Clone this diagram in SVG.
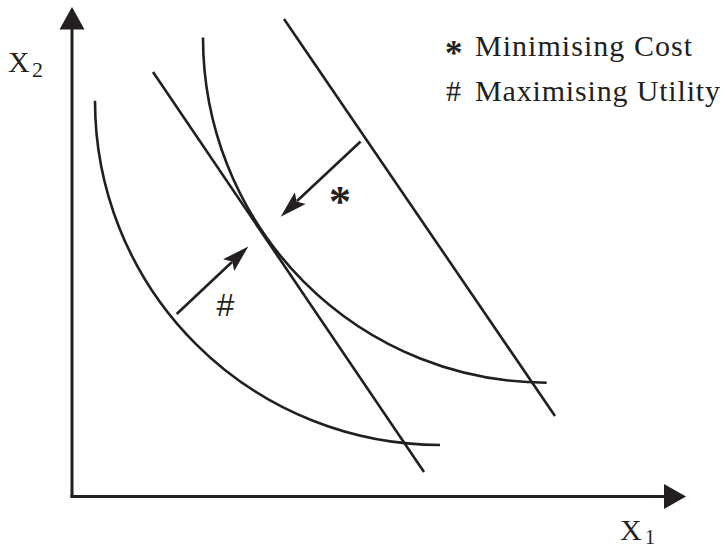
<svg xmlns="http://www.w3.org/2000/svg" width="725" height="547" viewBox="0 0 725 547">
<defs>
<style>
.ln{fill:none;stroke:#231f20;stroke-width:2.6;stroke-linecap:butt}
.ax{fill:none;stroke:#231f20;stroke-width:3}
.hd{fill:#231f20;stroke:none}
.t{font-family:"Liberation Serif","Times New Roman",serif;fill:#231f20}
.s{font-family:"Liberation Sans",Arial,sans-serif;fill:#231f20}
</style>
</defs>
<rect width="725" height="547" fill="#ffffff"/>
<g id="axes">
<line class="ax" x1="72" y1="28" x2="72" y2="497.5"/>
<line class="ax" x1="70.5" y1="496.5" x2="665" y2="496.5"/>
<polygon class="hd" points="72,7 59.5,29.5 84.5,29.5"/>
<polygon class="hd" points="686,496.5 664,484 664,509"/>
</g>
<g id="curve-lower">
<path class="ln" d="M95,100.7 A345,344 0 0 0 440,445"/>
</g>
<g id="curve-upper">
<path class="ln" d="M203,37.5 A343.7,345.2 0 0 0 546.7,382.7"/>
</g>
<g id="line-middle">
<line class="ln" x1="153" y1="72" x2="424" y2="472"/>
</g>
<g id="line-outer">
<line class="ln" x1="284" y1="19" x2="555" y2="416"/>
</g>
<g id="connectors">
<line class="ln" x1="176.7" y1="314" x2="232" y2="262"/>
<path class="hd" d="M248.3,246.5 L234.2,271 L232.3,261.6 L223,259.3 Z"/>
<line class="ln" x1="360.6" y1="141.5" x2="297" y2="201"/>
<path class="hd" d="M280.7,216.7 L294.8,192.3 L296.6,201.5 L305.6,204 Z"/>
</g>
<g id="labels">
<text class="t" x="8" y="72" font-size="30">X</text>
<text class="t" x="32" y="76.7" font-size="22">2</text>
<text class="t" x="620" y="540" font-size="30">X</text>
<text class="t" x="645" y="543.5" font-size="20">1</text>
<text class="t" x="340" y="216" font-size="44" text-anchor="middle" font-weight="bold">*</text>
<text class="s" x="225.3" y="316" font-size="32" text-anchor="middle">#</text>
</g>
<g id="legend">
<text class="t" x="445" y="65" font-size="35" font-weight="bold">*</text>
<text class="t" x="475" y="55.5" font-size="30" textLength="217">Minimising Cost</text>
<text class="t" x="446" y="100.5" font-size="30">#</text>
<text class="t" x="475" y="100.5" font-size="30" textLength="245">Maximising Utility</text>
</g>
</svg>
